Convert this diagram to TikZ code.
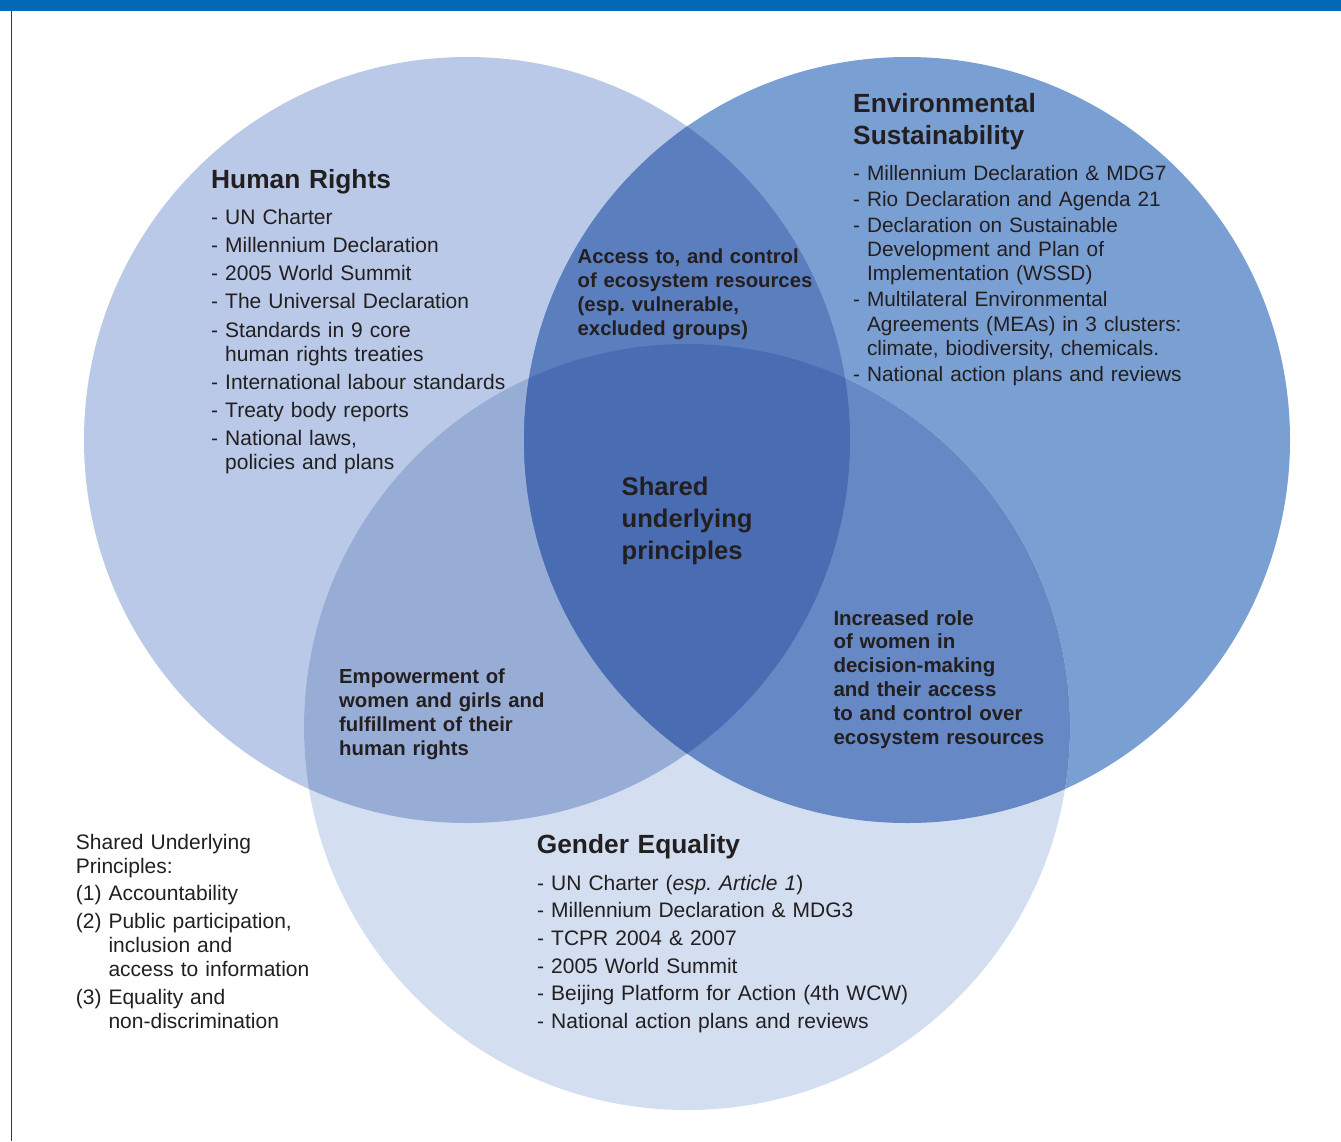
\documentclass[tikz,border=0pt]{standalone}
\usepackage{fontspec}
\setmainfont{Liberation Sans}
\frenchspacing
\definecolor{cHR}{HTML}{B9C9E7}
\definecolor{cEN}{HTML}{7A9FD2}
\definecolor{cGE}{HTML}{D3DEF0}
\definecolor{cHG}{HTML}{98ADD6}
\definecolor{cHE}{HTML}{5A7EBE}
\definecolor{cEG}{HTML}{6688C4}
\definecolor{cALL}{HTML}{4A6CB2}
\definecolor{topblue}{HTML}{0068B4}
\definecolor{leftline}{HTML}{3A3A3A}
\definecolor{ink}{HTML}{231F20}
\newcommand\indt{\hphantom{- }}
\newcommand\indn{\hphantom{(2) }}
\tikzset{
  txt/.style={anchor=base west, inner sep=0pt, align=left, text width=480pt, text=ink},
  heading/.style={txt, font=\bfseries\fontsize{26.3}{31.7}\selectfont},
  listtxt/.style={txt, font=\fontsize{21}{24}\selectfont},
  overlap/.style={txt, font=\bfseries\fontsize{20.3}{24.1}\selectfont},
  bigoverlap/.style={txt, font=\bfseries\fontsize{25.6}{32}\selectfont},
  rad/.style={radius=383pt}
}
\begin{document}
\begin{tikzpicture}[x=1pt,y=-1pt]
\useasboundingbox (0,0) rectangle (1341,1141);
\fill[white] (0,0) rectangle (1341,1141);
\coordinate (hrc) at (467,440);
\coordinate (enc) at (907,440);
\coordinate (gec) at (687,727);
% base circles
\fill[cHR] (hrc) circle[rad];
\fill[cEN] (enc) circle[rad];
\fill[cGE] (gec) circle[rad];
% pairwise overlaps
\begin{scope}
  \clip (hrc) circle[rad];
  \fill[cHG] (gec) circle[rad];
\end{scope}
\begin{scope}
  \clip (hrc) circle[rad];
  \fill[cHE] (enc) circle[rad];
\end{scope}
\begin{scope}
  \clip (enc) circle[rad];
  \fill[cEG] (gec) circle[rad];
\end{scope}
\begin{scope}
  \clip (hrc) circle[rad];
  \clip (enc) circle[rad];
  \fill[cALL] (gec) circle[rad];
\end{scope}
% frame
\fill[topblue] (0,0) rectangle (1341,11);
\draw[leftline, line width=1.4pt] (11.6,11) -- (11.6,1141);
% texts
\node[heading] (hrhead) at (211,188.3) {Human Rights};
\node[listtxt] (hrlist) at (211,224.3) {- UN Charter\\[4.2pt]
- Millennium Declaration\\[4.2pt]
- 2005 World Summit\\[4.2pt]
- The Universal Declaration\\[4.2pt]
- Standards in 9 core\\
\indt human rights treaties\\[4.2pt]
- International labour standards\\[4.2pt]
- Treaty body reports\\[4.2pt]
- National laws,\\
\indt policies and plans};
\node[heading] (enhead) at (853,112.7) {Environmental\\Sustainability};
\node[listtxt, font=\fontsize{20.8}{24.3}\selectfont] (enlist) at (853,180) {- Millennium Declaration \& MDG7\\[1.8pt]
- Rio Declaration and Agenda 21\\[1.8pt]
- Declaration on Sustainable\\
\indt Development and Plan of\\
\indt Implementation (WSSD)\\[1.8pt]
- Multilateral Environmental\\
\indt Agreements (MEAs) in 3 clusters:\\
\indt climate, biodiversity, chemicals.\\[1.8pt]
- National action plans and reviews};
\node[overlap] (access) at (577.5,263.3) {Access to, and control\\of ecosystem resources\\(esp. vulnerable,\\excluded groups)};
\node[bigoverlap] (shared) at (621.5,495.7) {Shared\\underlying\\principles};
\node[overlap] (empower) at (339,683.3) {Empowerment of\\women and girls and\\fulfillment of their\\human rights};
\node[overlap, font=\bfseries\fontsize{20.5}{23.9}\selectfont] (increased) at (833.3,625) {Increased role\\of women in\\decision-making\\and their access\\to and control over\\ecosystem resources};
\node[heading] (gehead) at (536.7,853.3) {Gender Equality};
\node[listtxt, font=\fontsize{21}{27.7}\selectfont] (gelist) at (537,890) {- UN Charter (\textit{esp. Article 1})\\
- Millennium Declaration \& MDG3\\
- TCPR 2004 \& 2007\\
- 2005 World Summit\\
- Beijing Platform for Action (4th WCW)\\
- National action plans and reviews};
\node[listtxt] (legend) at (75.7,849.3) {Shared Underlying\\
Principles:\\[3.5pt]
(1) Accountability\\[4pt]
(2) Public participation,\\
\indn inclusion and\\
\indn access to information\\[4pt]
(3) Equality and\\
\indn non-discrimination};
\end{tikzpicture}
\end{document}
